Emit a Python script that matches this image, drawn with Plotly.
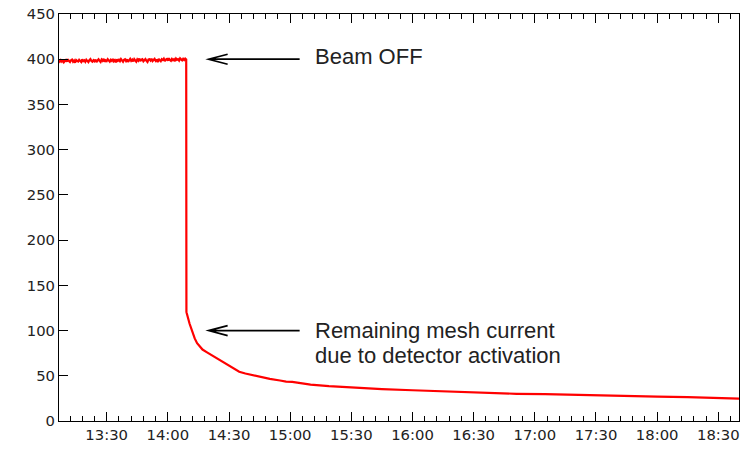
import pandas as pd
import plotly.graph_objects as go

DAY = "2024-01-01 "

# Beam-on phase: samples every 30 s starting 13:06:30
beam_on_start = DAY + "13:06:30"
beam_on_step_s = 30
beam_on_values = [
    398.6, 397.2, 398.9, 397.5, 399.4, 396.8, 398.1, 399.2, 397.3, 399.9,
    398.0, 396.9, 398.8, 399.6, 397.2, 398.5, 396.2, 399.1, 398.1, 397.4,
    399.3, 398.2, 396.9, 399.8, 397.9, 398.7, 397.1, 399.5, 398.3, 396.8,
    399.0, 400.2, 398.0, 397.3, 398.9, 397.8, 399.5, 396.9, 398.6, 399.9,
    398.2, 397.0, 399.6, 398.3, 400.5, 397.2, 398.8, 397.9, 400.0, 398.4,
    397.3, 399.3, 398.1, 400.4, 397.7, 399.0, 396.6, 399.7, 398.3, 399.4,
    397.9, 400.1, 398.6, 397.2, 399.3, 400.0, 398.0, 399.8, 397.1, 399.0,
    400.3, 398.2, 399.5, 397.6, 400.1, 398.6, 397.2, 399.8, 398.4, 400.7,
    398.0, 399.5, 400.0, 397.7, 399.0, 400.2, 398.3, 397.0, 399.7, 400.0,
    398.6, 400.6, 397.9, 399.2, 400.3, 398.3, 399.8, 396.8, 400.4, 398.8,
    397.8, 400.0, 399.1, 400.6, 398.0, 399.7, 400.3, 398.5, 401.2, 399.0,
    398.2, 400.3, 399.0, 400.0, 397.8, 400.7, 399.4, 400.1, 398.5, 400.9,
    399.5, 398.7, 400.4, 399.2, 400.6, 399.6,
]

# Beam-off phase: remaining mesh current
decay_times = [
    "14:09:06", "14:09:10", "14:10:40", "14:12:00", "14:13:10", "14:14:20",
    "14:15:40", "14:17:00", "14:19:00", "14:23:00", "14:27:00", "14:31:00",
    "14:35:00", "14:38:00", "14:41:00", "14:45:00", "14:50:00", "14:55:00",
    "14:58:00", "15:01:00", "15:05:00", "15:10:00", "15:19:00", "15:30:00",
    "15:45:00", "16:00:00", "16:18:00", "16:27:00", "16:30:00", "16:40:00",
    "16:51:00", "17:05:00", "17:18:00", "17:30:00", "17:45:00", "18:00:00",
    "18:15:00", "18:30:00", "18:40:10",
]
decay_values = [
    121.0, 120.0, 107.5, 98.5, 91.3, 86.0,
    81.8, 79.0, 76.2, 71.0, 65.5, 59.8,
    54.5, 52.5, 51.0, 48.5, 46.5, 44.8,
    43.6, 43.3, 41.6, 40.3, 38.5, 37.0,
    35.2, 34.0, 32.5, 31.8, 32.3, 31.0,
    30.1, 29.7, 28.9, 28.3, 27.6, 26.9,
    26.3, 25.6, 24.8,
]

y_ticks = list(range(0, 451, 50))
x_range = [DAY + "13:06:36", DAY + "18:40:09"]
y_range = [0, 450]

arrow_time = DAY + "14:20:00"
beam_off_label = "Beam OFF"
remain_label_1 = "Remaining mesh current"
remain_label_2 = "due to detector activation"
label_time = DAY + "15:11:10"

on_t = pd.date_range(beam_on_start, periods=len(beam_on_values), freq=f"{beam_on_step_s}s")
off_t = pd.to_datetime([DAY + t for t in decay_times])
xs = list(on_t) + list(off_t)
ys = beam_on_values + decay_values

fig = go.Figure()
fig.add_trace(go.Scatter(x=xs, y=ys, mode="lines",
                         line=dict(color="#ff0000", width=2.2), hoverinfo="skip"))

tickfont = dict(family="DejaVu Sans", size=14.8, color="#222222")
fig.update_layout(
    width=747, height=452,
    margin=dict(l=59, r=8, t=14, b=31, autoexpand=False),
    paper_bgcolor="white", plot_bgcolor="white",
    showlegend=False,
    xaxis=dict(type="date", range=x_range, tickformat="%H:%M",
               tick0=DAY + "13:00:00", dtick=30 * 60 * 1000,
               ticks="inside", ticklen=9, tickwidth=1, tickcolor="black",
               minor=dict(ticks="inside", ticklen=5, dtick=6 * 60 * 1000,
                          tick0=DAY + "13:00:00", tickcolor="black", showgrid=False),
               showline=True, linecolor="black", linewidth=1, mirror="ticks",
               showgrid=False, zeroline=False, tickfont=tickfont),
    yaxis=dict(range=y_range, tickvals=y_ticks,
               ticks="inside", ticklen=9, tickwidth=1, tickcolor="black",
               showline=True, linecolor="black", linewidth=1, mirror=True,
               showgrid=False, zeroline=False, tickfont=tickfont),
)

annfont = dict(family="Liberation Sans", size=22, color="#222222")
for y_val in (400, 100):
    fig.add_shape(type="path", xref="x", yref="y",
                  xsizemode="pixel", ysizemode="pixel",
                  xanchor=arrow_time, yanchor=y_val,
                  path="M 91,0 L 0,0 M 19,5 L 0,0 L 19,-5",
                  line=dict(color="black", width=1.7))

fig.add_annotation(x=label_time, y=402.7, text=beam_off_label, showarrow=False,
                   xanchor="left", yanchor="middle", font=annfont)
fig.add_annotation(x=label_time, y=100.5, text=remain_label_1, showarrow=False,
                   xanchor="left", yanchor="middle", font=annfont)
fig.add_annotation(x=label_time, y=72.3, text=remain_label_2, showarrow=False,
                   xanchor="left", yanchor="middle", font=annfont)

fig.write_html("out.html")
